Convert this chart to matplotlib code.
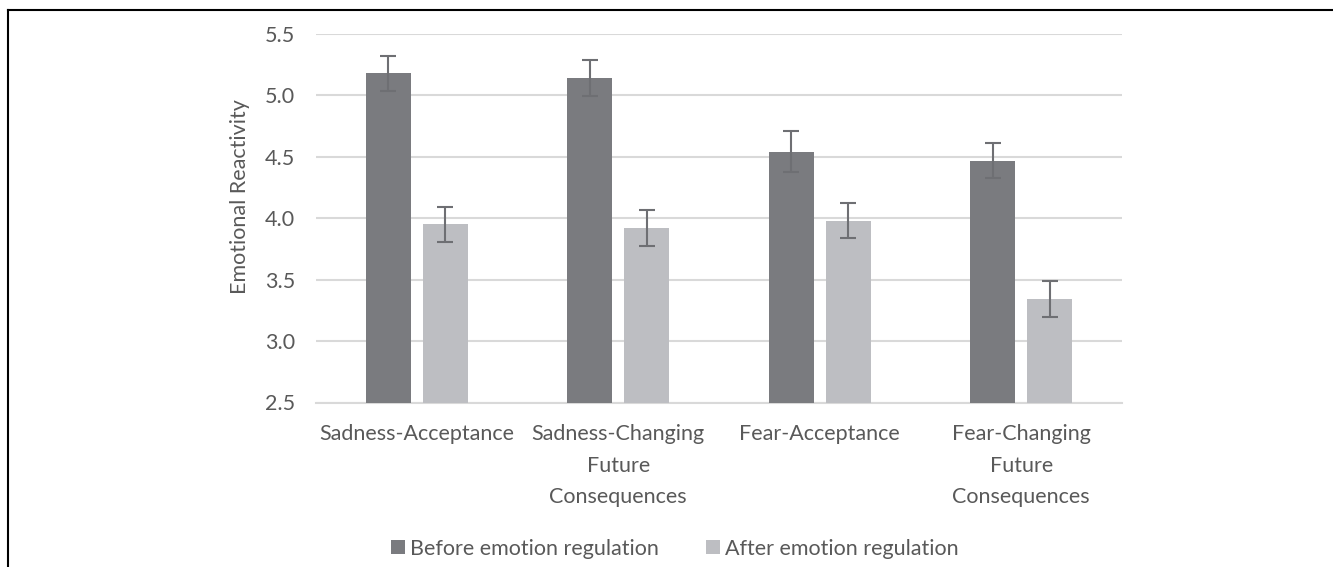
import matplotlib
matplotlib.use("Agg")
import matplotlib.pyplot as plt
import numpy as np
from matplotlib.lines import Line2D
from matplotlib.patches import Patch

categories = ["Sadness-Acceptance", "Sadness-Changing\nFuture\nConsequences",
              "Fear-Acceptance", "Fear-Changing\nFuture\nConsequences"]
before_vals = [5.18, 5.14, 4.54, 4.47]
before_err = [0.14, 0.147, 0.167, 0.144]
after_vals = [3.95, 3.92, 3.98, 3.34]
after_err = [0.145, 0.148, 0.142, 0.148]
series_names = ["Before emotion regulation", "After emotion regulation"]
yticks = [2.5, 3.0, 3.5, 4.0, 4.5, 5.0, 5.5]

plt.rcParams['font.family'] = ['Lato', 'DejaVu Sans']
text_color = '#595959'
dark = '#7a7b7f'
light = '#bdbec2'
err_color = '#6e6f73'
fs = 15.5

fig = plt.figure(figsize=(13.33, 5.67), dpi=100)
ax = fig.add_axes([316/1333, 1-402.5/567, (1122-316)/1333, (402.5-34)/567])

x = np.arange(len(categories))
w = 0.223
off = 0.141
ax.bar(x - off, before_vals, w, color=dark, zorder=3, label=series_names[0])
ax.bar(x + off, after_vals, w, color=light, zorder=3, label=series_names[1])
ax.errorbar(x - off, before_vals, yerr=before_err, fmt='none', ecolor=err_color,
            elinewidth=1.5, capsize=6, capthick=1.5, zorder=4)
ax.errorbar(x + off, after_vals, yerr=after_err, fmt='none', ecolor=err_color,
            elinewidth=1.5, capsize=6, capthick=1.5, zorder=4)

ax.set_ylim(2.5, 5.5)
ax.set_xlim(-0.5, 3.5)
ax.set_yticks(yticks)
ax.set_yticklabels([f"{v:.1f}" for v in yticks])
ax.set_xticks(x)
ax.set_xticklabels(categories, linespacing=1.72, va='top')
ax.tick_params(axis='both', length=0, colors=text_color, labelsize=fs)
ax.tick_params(axis='y', pad=15)
ax.tick_params(axis='x', pad=15.5)
ax.yaxis.grid(True, color='#d9d9d9', linewidth=1.5, zorder=0)
for s in ['top', 'right', 'left']:
    ax.spines[s].set_visible(False)
ax.spines['bottom'].set_color('#d9d9d9')
ax.spines['bottom'].set_linewidth(1.5)
ax.spines['bottom'].set_zorder(1)
ax.set_ylabel("Emotional Reactivity", color=text_color, fontsize=fs)
ax.yaxis.set_label_coords(-0.082, 0.56)

handles = [Patch(facecolor=dark), Patch(facecolor=light)]
fig.legend(handles, series_names, loc='center', bbox_to_anchor=(675/1333, 1-549/567),
           ncol=2, frameon=False, fontsize=fs, labelcolor=text_color,
           handlelength=0.62, handleheight=0.62, handletextpad=0.25, columnspacing=2.2)

# frame
fig.add_artist(Line2D([8/1333, 8/1333], [0, 1-9.5/567], color='black', lw=1.5,
                      transform=fig.transFigure))
fig.add_artist(Line2D([8/1333, 1], [1-9.5/567, 1-9.5/567], color='black', lw=1.5,
                      transform=fig.transFigure))

fig.savefig("out.png", dpi=100, facecolor='white')
